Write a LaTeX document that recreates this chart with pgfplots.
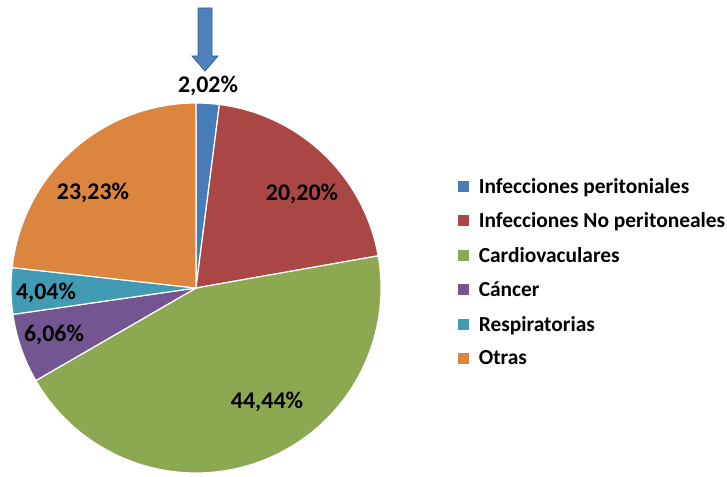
\documentclass[border=0pt]{standalone}
\usepackage{pgfplots}
\pgfplotsset{compat=1.18}
\usepackage{fontspec}
\setmainfont{Carlito}
\definecolor{cblue}{RGB}{70,125,185}
\definecolor{cred}{RGB}{170,70,67}
\definecolor{cgreen}{RGB}{140,168,80}
\definecolor{cpurple}{RGB}{115,85,145}
\definecolor{caqua}{RGB}{65,155,180}
\definecolor{corange}{RGB}{220,133,62}
\definecolor{arrowblue}{RGB}{79,129,189}
\definecolor{arrowedge}{RGB}{56,93,138}
% percentages (clockwise from 12 o'clock)
\def\pA{2.02}\def\pB{20.20}\def\pC{44.44}\def\pD{6.06}\def\pE{4.04}\def\pF{23.23}
\pgfmathsetmacro\aA{90}
\pgfmathsetmacro\aB{\aA-3.6*\pA}
\pgfmathsetmacro\aC{\aB-3.6*\pB}
\pgfmathsetmacro\aD{\aC-3.6*\pC}
\pgfmathsetmacro\aE{\aD-3.6*\pD}
\pgfmathsetmacro\aF{\aE-3.6*\pE}
\pgfmathsetmacro\aG{\aF-3.6*\pF}
\def\R{185}
\tikzset{lbl/.style={font=\fontsize{24}{28}\selectfont\bfseries, inner sep=0pt}}
\begin{document}
\begin{tikzpicture}
\begin{axis}[
  x=1bp, y=1bp, scale only axis,
  xmin=-196, xmax=531, ymin=-189, ymax=288,
  hide axis, clip=false,
  legend cell align=left,
  legend image code/.code={\fill[#1,draw=none] (0bp,-5.5bp) rectangle (11bp,5.5bp); \path (20bp,0bp);},
  legend style={at={(axis cs:262,111)}, anchor=north west, draw=none, fill=none,
    inner sep=0pt, row sep=16bp, font=\fontsize{21.5}{25}\selectfont\bfseries,
    nodes={inner xsep=0bp, inner ysep=1bp}},
]
\path (axis cs:-196,-189) rectangle (axis cs:531,288);
\addplot[fill=cblue, draw=white, line width=1.2bp, domain=\aB:\aA, samples=20, variable=\t] ({\R*cos(\t)},{\R*sin(\t)}) -- (axis cs:0,0) -- cycle;
\addlegendentry{Infecciones peritoniales}
\addplot[fill=cred, draw=white, line width=1.2bp, domain=\aC:\aB, samples=60, variable=\t] ({\R*cos(\t)},{\R*sin(\t)}) -- (axis cs:0,0) -- cycle;
\addlegendentry{Infecciones No peritoneales}
\addplot[fill=cgreen, draw=white, line width=1.2bp, domain=\aD:\aC, samples=120, variable=\t] ({\R*cos(\t)},{\R*sin(\t)}) -- (axis cs:0,0) -- cycle;
\addlegendentry{Cardiovaculares}
\addplot[fill=cpurple, draw=white, line width=1.2bp, domain=\aE:\aD, samples=30, variable=\t] ({\R*cos(\t)},{\R*sin(\t)}) -- (axis cs:0,0) -- cycle;
\addlegendentry{Cáncer}
\addplot[fill=caqua, draw=white, line width=1.2bp, domain=\aF:\aE, samples=20, variable=\t] ({\R*cos(\t)},{\R*sin(\t)}) -- (axis cs:0,0) -- cycle;
\addlegendentry{Respiratorias}
\addplot[fill=corange, draw=white, line width=1.2bp, domain=\aG:\aF, samples=60, variable=\t] ({\R*cos(\t)},{\R*sin(\t)}) -- (axis cs:0,0) -- cycle;
\addlegendentry{Otras}
% labels
\node[lbl] at (axis cs:12,202) {2,02\%};
\node[lbl] at (axis cs:106,94) {20,20\%};
\node[lbl] at (axis cs:71,-114) {44,44\%};
\node[lbl] at (axis cs:-142,-47) {6,06\%};
\node[lbl] at (axis cs:-150,-5) {4,04\%};
\node[lbl] at (axis cs:-103,95) {23,23\%};
% arrow annotation
\filldraw[fill=arrowblue, draw=arrowedge, line width=0.8bp]
  (axis cs:2,280) -- (axis cs:16,280) -- (axis cs:16,232) -- (axis cs:22,232)
  -- (axis cs:9,217) -- (axis cs:-4,232) -- (axis cs:2,232) -- cycle;
\end{axis}
\end{tikzpicture}
\end{document}
